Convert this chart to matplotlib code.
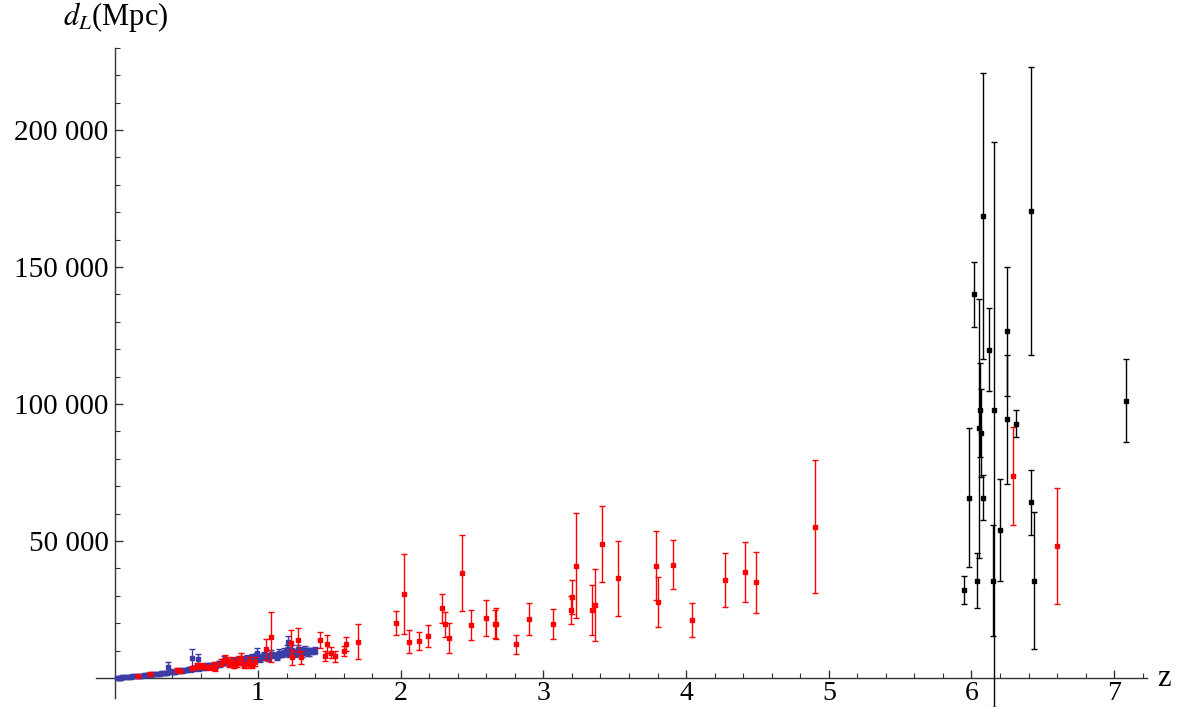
import numpy as np
import matplotlib.pyplot as plt
from matplotlib.ticker import FixedLocator, FuncFormatter

# Estilo tipo Mathematica (fuente Times)
plt.rcParams['font.family'] = 'Liberation Serif'
plt.rcParams['mathtext.fontset'] = 'stix'

# Supernovas Ia (azul)
sn_z = [0.015, 0.02, 0.025, 0.03, 0.035, 0.04, 0.05, 0.06, 0.07, 0.08,
        0.10, 0.12, 0.14, 0.16, 0.18, 0.20, 0.22, 0.24, 0.25, 0.27,
        0.28, 0.30, 0.31, 0.33, 0.34, 0.35, 0.36, 0.37, 0.38, 0.40,
        0.41, 0.42, 0.43, 0.44, 0.45, 0.46, 0.47, 0.48, 0.50, 0.51,
        0.52, 0.53, 0.54, 0.55, 0.56, 0.57, 0.58, 0.59, 0.60, 0.61,
        0.62, 0.63, 0.64, 0.65, 0.66, 0.68, 0.69, 0.70, 0.71, 0.72,
        0.74, 0.75, 0.76, 0.77, 0.78, 0.80, 0.81, 0.82, 0.83, 0.85,
        0.86, 0.87, 0.88, 0.90, 0.91, 0.92, 0.93, 0.95, 0.96, 0.97,
        0.99, 1.00, 1.01, 1.02, 1.03, 1.05, 1.06, 1.08, 1.10, 1.12,
        1.14, 1.16, 1.17, 1.19, 1.20, 1.21, 1.23, 1.25, 1.27, 1.29,
        1.30, 1.32, 1.34, 1.37, 1.39, 1.40,
        0.045, 0.09, 0.11, 0.13, 0.15, 0.17, 0.19, 0.21, 0.23, 0.26,
        0.29, 0.32, 0.345, 0.375, 0.39, 0.415, 0.435, 0.455, 0.475, 0.49,
        0.505, 0.525, 0.545, 0.565, 0.585, 0.605, 0.625, 0.645, 0.67, 0.685,
        0.705, 0.725, 0.735, 0.755, 0.79, 0.805, 0.825, 0.84, 0.855, 0.875,
        0.89, 0.905, 0.925, 0.94, 0.955, 0.975, 0.985, 1.015, 1.04, 1.07,
        1.09, 1.13, 1.15, 1.18, 1.22, 1.24, 1.26, 1.28, 1.31, 1.33, 1.35, 1.36]
sn_dl = [65, 90, 110, 130, 160, 175, 220, 270, 310, 350,
         450, 560, 640, 760, 870, 980, 1060, 1190, 1230, 1380,
         1420, 1560, 1640, 1760, 1850, 1880, 1980, 4200, 2100, 2200,
         2350, 2300, 2480, 2600, 2520, 2750, 2680, 2900, 3000, 3150,
         3400, 3050, 7400, 3500, 3300, 3700, 6800, 3650, 3900, 4100,
         3800, 4300, 4250, 4500, 4200, 4700, 4600, 5000, 4800, 5100,
         5200, 5400, 6600, 5300, 5700, 5500, 5900, 6100, 5800, 6200,
         5900, 6500, 6300, 6200, 6800, 6500, 7000, 6800, 7400, 7100,
         9100, 7300, 7600, 7900, 7500, 8000, 7800, 8200, 8500, 8100,
         8400, 8800, 8600, 9000, 10200, 13300, 9300, 9600, 9100, 9800,
         10100, 9500, 9900, 10000, 9700, 10100,
         250, 380, 520, 640, 690, 820, 900, 1080, 1150, 1330,
         1600, 1800, 1700, 2300, 2400, 2050, 2700, 2800, 2450, 3100,
         2850, 3300, 3700, 3900, 3400, 4400, 3600, 4700, 4900, 4400,
         4500, 5400, 4900, 5800, 6000, 5200, 6500, 5600, 6700, 5700,
         7000, 5900, 7300, 6300, 7600, 6600, 8000, 7000, 8400, 7400,
         8900, 7800, 9300, 9500, 8800, 10400, 8900, 10500, 9200, 10300, 9400, 9600]
sn_err = [10, 10, 15, 15, 20, 20, 25, 30, 35, 40,
          50, 60, 70, 80, 90, 100, 110, 120, 130, 140,
          150, 160, 170, 180, 190, 200, 210, 1500, 220, 230,
          240, 240, 250, 260, 260, 280, 280, 300, 310, 320,
          340, 320, 3300, 360, 340, 380, 2000, 380, 400, 420,
          400, 440, 440, 460, 440, 480, 480, 520, 500, 540,
          540, 560, 1500, 560, 600, 580, 620, 640, 620, 660,
          640, 700, 680, 680, 740, 700, 760, 740, 800, 780,
          2000, 800, 820, 860, 820, 880, 860, 900, 950, 900,
          940, 980, 960, 1000, 1800, 2000, 1050, 1100, 1000, 1100,
          1150, 1050, 1100, 1100, 1050, 1100,
          30, 40, 50, 70, 80, 90, 100, 120, 130, 150,
          180, 200, 220, 260, 280, 260, 320, 340, 300, 360,
          340, 400, 450, 500, 420, 550, 450, 600, 650, 560,
          600, 700, 650, 800, 850, 700, 900, 750, 950, 800,
          1000, 800, 1100, 900, 1100, 950, 1200, 1000, 1250, 1050,
          1300, 1100, 1400, 1400, 1300, 1500, 1300, 1500, 1350, 1500, 1400, 1400]

# Brotes de rayos gamma (rojo)
grb_z = [0.16, 0.24, 0.43, 0.45, 0.61, 0.63, 0.69, 0.70, 0.77, 0.80,
         0.82, 0.83, 0.85, 0.87, 0.93, 0.94, 0.96,
         0.54, 0.57, 0.66, 0.74, 0.79, 0.88, 0.90, 0.98,
         1.054, 1.094, 1.231, 1.24, 1.283, 1.30, 1.432, 1.47, 1.483, 1.514,
         1.54, 1.60, 1.614, 1.703,
         1.97, 2.02, 2.06, 2.13, 2.19, 2.29, 2.31, 2.34, 2.43, 2.49,
         2.60, 2.66, 2.67, 2.81, 2.90, 3.07, 3.19, 3.20, 3.23, 3.34,
         3.36, 3.41, 3.52, 3.79, 3.80, 3.91, 4.04, 4.27, 4.41, 4.49,
         4.90, 6.29, 6.60]
grb_dl = [900, 1600, 2900, 2600, 4400, 3900, 4600, 3500, 7000, 5200,
          6000, 4500, 5500, 6400, 5000, 6200, 4600,
          3600, 4300, 3900, 5600, 6300, 7200, 4800, 6000,
          10500, 14900, 12700, 7500, 13900, 7500, 13900, 8000, 12400, 9200,
          8000, 10000, 12300, 13300,
          20100, 30700, 13300, 13500, 15300, 25400, 19600, 14600, 38400, 19500,
          21900, 19700, 19800, 12300, 21500, 19800, 24900, 29600, 41000, 24800,
          26600, 48800, 36400, 41000, 27700, 41400, 21200, 35700, 38600, 35000,
          55200, 73700, 48300]
grb_err = [250, 500, 600, 500, 900, 700, 1100, 800, 1500, 1200,
           1800, 1000, 1300, 1500, 1200, 1600, 1100,
           700, 1000, 900, 1300, 1500, 1800, 1200, 1500,
           3800, 9200, 4800, 2700, 4300, 2500, 3000, 1700, 3300, 2000,
           2000, 1800, 2500, 6400,
           4400, 14700, 4200, 3300, 4000, 5200, 4600, 5600, 13800, 5500,
           6700, 5100, 5700, 3500, 5900, 5400, 5100, 6300, 19100, 9000,
           13100, 13900, 13700, 12600, 9200, 8800, 6300, 9800, 10900, 11100,
           24200, 18000, 21200]

# Cuásares (negro), barras de error asimétricas
qso_z = [5.95, 5.98, 6.02, 6.04, 6.05, 6.06, 6.07, 6.08, 6.08, 6.12,
         6.15, 6.16, 6.20, 6.25, 6.25, 6.31, 6.42, 6.42, 6.44, 7.08]
qso_dl = [32100, 65800, 140000, 35500, 91100, 97800, 89500, 65800, 168700, 119800,
          35500, 97800, 54000, 126500, 94400, 92800, 170500, 64100, 35500, 101200]
qso_lo = [5000, 25300, 12000, 10000, 47200, 17000, 16000, 8300, 52300, 15100,
          20300, 108300, 18600, 23600, 23600, 5000, 52500, 12000, 25000, 15200]
qso_hi = [5000, 25300, 12000, 10000, 47200, 17000, 16000, 8300, 52300, 15100,
          20300, 98000, 18600, 23600, 23600, 5000, 52500, 12000, 25000, 15200]

fig = plt.figure(figsize=(11.77, 7.07), dpi=100)
ax = fig.add_axes([0.0815, 0.0127, 0.8930, 0.9196])

estilo = dict(fmt='s', markersize=2.2, capsize=2.2, elinewidth=1.0,
              capthick=1.0, linestyle='none')

ax.errorbar(sn_z, sn_dl, yerr=sn_err, color='#3c3ca6', zorder=3, **estilo)
ax.errorbar(grb_z, grb_dl, yerr=grb_err, color='#ff0000', zorder=4, **estilo)
qso = ax.errorbar(qso_z, qso_dl, yerr=[qso_lo, qso_hi], color='black',
                  zorder=5, **estilo)
for artist in qso.lines[1] + qso.lines[2]:
    artist.set_clip_on(False)

# Ejes cruzando en el origen
ax.set_xlim(-0.136, 7.23)
ax.set_ylim(-7300, 230000)
ax.spines['left'].set_position(('data', 0))
ax.spines['bottom'].set_position(('data', 0))
ax.spines['top'].set_visible(False)
ax.spines['right'].set_visible(False)
for s in ('left', 'bottom'):
    ax.spines[s].set_color('#333333')
    ax.spines[s].set_linewidth(1.0)

ax.xaxis.set_major_locator(FixedLocator([1, 2, 3, 4, 5, 6, 7]))
ax.xaxis.set_minor_locator(FixedLocator(np.arange(0.2, 7.21, 0.2)))
ax.yaxis.set_major_locator(FixedLocator([50000, 100000, 150000, 200000]))
ax.yaxis.set_minor_locator(FixedLocator(np.arange(10000, 230001, 10000)))
ax.yaxis.set_major_formatter(FuncFormatter(lambda v, p: f'{int(v):,}'.replace(',', ' ')))

ax.tick_params(which='major', direction='in', length=6, width=1.0,
               color='#333333', labelsize=21, pad=5)
ax.tick_params(axis='x', which='major', labelsize=20, pad=2)
ax.tick_params(which='minor', direction='in', length=3.5, width=0.8,
               color='#333333')

# Etiquetas de los ejes
ax.annotate('z', xy=(1, 0), xycoords=('axes fraction', 'data'),
            xytext=(7, 0), textcoords='offset points',
            ha='left', va='center', fontsize=22)
ax.annotate(r'$d_L$(Mpc)', xy=(0, 1), xycoords=('data', 'axes fraction'),
            xytext=(0, 10), textcoords='offset points',
            ha='center', va='bottom', fontsize=22)

fig.savefig('out.png', dpi=100)
